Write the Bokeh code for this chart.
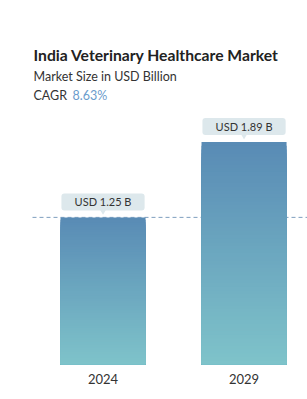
import numpy as np
from bokeh.plotting import figure
from bokeh.models import Range1d, Label, ColumnDataSource
from bokeh.core.properties import value
from bokeh.embed import file_html
from bokeh.resources import INLINE

# data
years = ["2024", "2029"]
values = [1.25, 1.89]
title = "India Veterinary Healthcare Market"
subtitle = "Market Size in USD Billion"
cagr_label = "CAGR"
cagr_value = "8.63%"

FONT = "Lato"
W, H = 307, 399
BOTTOM = 35
PX_PER_UNIT = 117.7
frame_h = H - BOTTOM

p = figure(width=W, height=H, output_backend="svg", toolbar_location=None,
           x_range=Range1d(-0.727, 1.450), y_range=Range1d(0, frame_h / PX_PER_UNIT),
           min_border_left=0, min_border_right=0, min_border_top=0, min_border_bottom=BOTTOM)
p.outline_line_color = None
p.grid.visible = False
p.yaxis.visible = False
p.background_fill_color = "white"
p.border_fill_color = "white"

xs = list(range(len(years)))

# dashed reference line at first value
p.segment(x0=[-0.5], x1=[1.450], y0=[values[0]], y1=[values[0]],
          line_color="#7f9fbf", line_width=1, line_dash="4 3")

# gradient bars: overlapping rects, tallest first (no seams)
top_c = np.array([0x59, 0x8b, 0xb5])
bot_c = np.array([0x7f, 0xc4, 0xca])
N = 60
sx, st, sc = [], [], []
for i in range(N, 0, -1):
    for x, v in zip(xs, values):
        t = i / N
        c = bot_c + (top_c - bot_c) * t
        sx.append(x); st.append(v * t)
        sc.append("#%02x%02x%02x" % tuple(int(round(k)) for k in c))
p.vbar(x=sx, bottom=0, top=st, width=0.603, fill_color=sc, line_color=None)

# callouts
off = 15.5 / PX_PER_UNIT
labels = ["USD %.2f B" % v for v in values]
src = ColumnDataSource(dict(x=xs, y=[v + off for v in values], t=labels,
                            tb=[v + off - 8.5 / PX_PER_UNIT for v in values],
                            tt=[v + off + 8.5 / PX_PER_UNIT for v in values],
                            ty=[v + off - 9.5 / PX_PER_UNIT for v in values]))
p.vbar(x="x", bottom="tb", top="tt", width=0.59, fill_color="#dde8ec", line_color=None,
       border_radius=3, source=src)
p.scatter(x="x", y="ty", marker="inverted_triangle", size=6, fill_color="#dde8ec",
          line_color=None, source=src)
p.text(x="x", y="y", text="t", text_align="center", text_baseline="middle",
       text_font=value(FONT), text_font_size="11px", text_color="#333333", source=src)

# x axis
p.xaxis.ticker = xs
p.xaxis.major_label_overrides = {i: y for i, y in enumerate(years)}
p.xaxis.axis_line_color = None
p.xaxis.major_tick_line_color = None
p.xaxis.minor_tick_line_color = None
p.xaxis.major_label_text_font = FONT
p.xaxis.major_label_text_font_size = "13px"
p.xaxis.major_label_text_color = "#333333"
p.xaxis.major_label_standoff = 3

# titles
def lab(text, x, y, size, color="#222222", style="normal"):
    l = Label(x=x, y=frame_h - y, x_units="screen", y_units="screen", text=text,
              text_font=FONT, text_font_size=size, text_color=color,
              text_font_style=style, text_baseline="alphabetic")
    p.add_layout(l)
    return l

lab(title, 33, 54, "15.7px", "#222222", "bold")
lab(subtitle, 33, 76, "12.5px", "#333333")
lab(cagr_label, 33, 95, "12.5px", "#333333")
lab(cagr_value, 72, 95, "12.5px", "#6a9ccc")

open("out.html", "w").write(file_html(p, INLINE))
